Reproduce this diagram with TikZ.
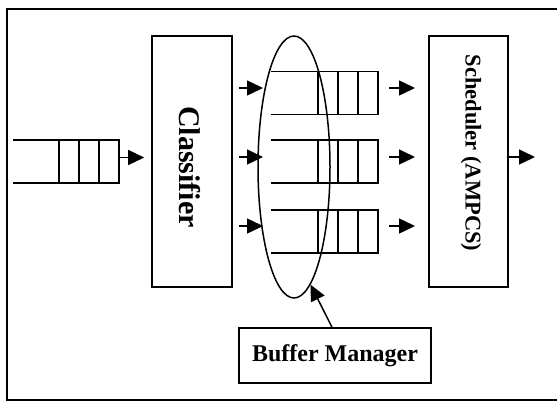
\documentclass[tikz,border=0pt]{standalone}
\usepackage{fontspec}
\setmainfont{Liberation Serif}
\usetikzlibrary{shapes.geometric,arrows.meta}

% draws the slot lines of a FIFO queue node: open on the left, three cells on the right
\newcommand{\fifolines}[1]{%
  \draw[line] (#1.north west) -- (#1.north east) -- (#1.south east) -- (#1.south west);
  \foreach \dx in {20,40,60}
    \draw[line] ([xshift=-\dx pt]#1.north east) -- ([xshift=-\dx pt]#1.south east);
}

\begin{document}
\begin{tikzpicture}[x=1pt,y=-1pt,
  line/.style={line width=1.5pt},
  block/.style={draw,line width=1.6pt,inner sep=0pt},
  qbox/.style={inner sep=0pt,minimum width=107pt,minimum height=43pt},
  arr/.style={line width=1.5pt,-{Triangle[length=16pt,width=15pt]}},
  lbl/.style={font=\bfseries}]
\useasboundingbox (0,0) rectangle (557,402);

% outer frame (open on the right)
\draw[line width=1.6pt] (557,9) -- (7,9) -- (7,400) -- (557,400);

% main blocks
\node[block,minimum width=80pt,minimum height=251pt] (cls) at (192,161.5) {};
\node[lbl,rotate=-90,font=\bfseries\fontsize{30}{30}\selectfont] at (190,167) {Classifier};
\node[block,minimum width=79pt,minimum height=251pt] (sch) at (468.5,161.5) {};
\node[lbl,rotate=-90,font=\bfseries\fontsize{22.5}{22.5}\selectfont] at (471,153) {Scheduler (AMPCS)};
\node[block,minimum width=192pt,minimum height=55pt,font=\bfseries\fontsize{24}{24}\selectfont] (mgr) at (335,355.5) {Buffer Manager};

% queues
\node[qbox,minimum width=106pt] (qin) at (66,161.5) {};
\node[qbox] (q1) at (324.5,93) {};
\node[qbox] (q2) at (324.5,161.5) {};
\node[qbox] (q3) at (324.5,231.5) {};
\fifolines{qin}
\fifolines{q1}
\fifolines{q2}
\fifolines{q3}

% buffer region
\node[draw,line width=1.5pt,ellipse,minimum width=72pt,minimum height=262pt,inner sep=0pt] (buf) at (294,167) {};

% flow arrows
\coordinate (in1) at (263,88);
\coordinate (in2) at (263,157);
\coordinate (in3) at (263,226);
\coordinate (s1) at (415,88);
\coordinate (s2) at (415,157);
\coordinate (s3) at (415,226);
\coordinate (out) at (535,157);

\draw[arr] ([yshift=4pt]qin.east) -- ([yshift=4pt,xshift=-7pt]cls.west);
\draw[arr] (cls.east |- in1) ++(6,0) -- (in1);
\draw[arr] (cls.east |- in2) ++(6,0) -- (in2);
\draw[arr] (cls.east |- in3) ++(6,0) -- (in3);
\draw[arr] (q1.east |- s1) ++(11,0) -- (s1);
\draw[arr] (q2.east |- s2) ++(11,0) -- (s2);
\draw[arr] (q3.east |- s3) ++(11,0) -- (s3);
\draw[arr] (sch.east |- out) -- (out);

% manager pointing at the buffer region
\draw[arr] ([xshift=-3pt]mgr.north) -- (buf.-82);
\end{tikzpicture}
\end{document}
